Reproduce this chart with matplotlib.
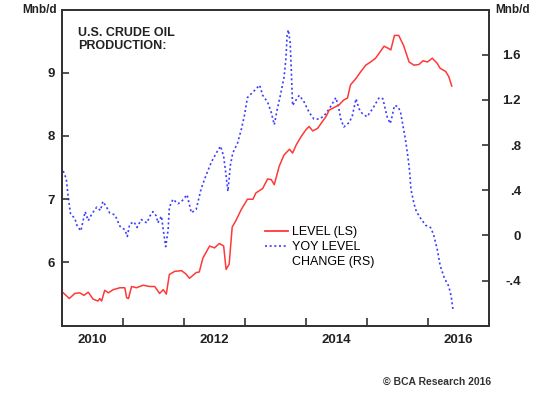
import numpy as np
import matplotlib
matplotlib.use("Agg")
import matplotlib.pyplot as plt
from matplotlib.lines import Line2D

plt.rcParams['font.family'] = ['Liberation Sans', 'DejaVu Sans']

## the data (decimal years)
level_t = [2010.02, 2010.12, 2010.21, 2010.29, 2010.36, 2010.43, 2010.51, 2010.59, 2010.62,
           2010.65, 2010.70, 2010.76, 2010.84, 2010.95, 2011.03, 2011.06, 2011.09, 2011.14,
           2011.22, 2011.33, 2011.44, 2011.52, 2011.60, 2011.66, 2011.71, 2011.76, 2011.85,
           2011.96, 2012.03, 2012.09, 2012.20, 2012.25, 2012.31, 2012.42, 2012.50, 2012.58,
           2012.65, 2012.69, 2012.74, 2012.79, 2012.85, 2012.94, 2013.04, 2013.13, 2013.18,
           2013.29, 2013.37, 2013.43, 2013.48, 2013.56, 2013.64, 2013.73, 2013.78, 2013.84,
           2013.92, 2014.00, 2014.05, 2014.11, 2014.19, 2014.27, 2014.33, 2014.38, 2014.46,
           2014.54, 2014.62, 2014.68, 2014.73, 2014.82, 2014.90, 2014.98, 2015.06, 2015.14,
           2015.20, 2015.28, 2015.36, 2015.39, 2015.45, 2015.52, 2015.60, 2015.69, 2015.77,
           2015.85, 2015.92, 2015.99, 2016.07, 2016.15, 2016.20, 2016.29, 2016.34, 2016.39]
level = [5.52, 5.43, 5.51, 5.52, 5.48, 5.53, 5.42, 5.39, 5.43,
         5.39, 5.56, 5.52, 5.57, 5.60, 5.60, 5.44, 5.43, 5.62,
         5.60, 5.64, 5.62, 5.62, 5.51, 5.57, 5.50, 5.81, 5.86,
         5.87, 5.82, 5.75, 5.84, 5.85, 6.07, 6.26, 6.23, 6.30,
         6.26, 5.89, 5.97, 6.56, 6.66, 6.84, 7.00, 7.00, 7.10,
         7.17, 7.32, 7.31, 7.23, 7.52, 7.70, 7.79, 7.73, 7.86,
         7.99, 8.10, 8.15, 8.08, 8.12, 8.23, 8.31, 8.41, 8.45,
         8.49, 8.57, 8.60, 8.81, 8.91, 9.02, 9.12, 9.17, 9.23,
         9.31, 9.42, 9.38, 9.36, 9.59, 9.59, 9.43, 9.17, 9.12,
         9.13, 9.19, 9.17, 9.23, 9.15, 9.07, 9.02, 8.94, 8.79]

yoy_t = [2010.02, 2010.07, 2010.10, 2010.14, 2010.21, 2010.25, 2010.31, 2010.35, 2010.38,
         2010.43, 2010.49, 2010.57, 2010.63, 2010.67, 2010.73, 2010.78, 2010.87, 2010.95,
         2011.03, 2011.07, 2011.11, 2011.18, 2011.23, 2011.30, 2011.39, 2011.44, 2011.49,
         2011.55, 2011.57, 2011.63, 2011.66, 2011.70, 2011.74, 2011.76, 2011.82, 2011.90,
         2011.96, 2012.05, 2012.12, 2012.20, 2012.28, 2012.36, 2012.45, 2012.53, 2012.60,
         2012.65, 2012.69, 2012.72, 2012.76, 2012.80, 2012.88, 2012.94, 2012.99, 2013.04,
         2013.15, 2013.24, 2013.29, 2013.37, 2013.43, 2013.48, 2013.53, 2013.58, 2013.64,
         2013.67, 2013.69, 2013.71, 2013.74, 2013.76, 2013.78, 2013.85, 2013.89, 2013.97,
         2014.05, 2014.13, 2014.22, 2014.30, 2014.38, 2014.49, 2014.54, 2014.57, 2014.62,
         2014.71, 2014.76, 2014.82, 2014.87, 2014.92, 2015.00, 2015.09, 2015.20, 2015.26,
         2015.29, 2015.33, 2015.38, 2015.41, 2015.45, 2015.51, 2015.55, 2015.59, 2015.63,
         2015.67, 2015.70, 2015.72, 2015.77, 2015.81, 2015.88, 2015.96, 2016.04, 2016.09,
         2016.15, 2016.20, 2016.27, 2016.34, 2016.38, 2016.41]
yoy = [0.57, 0.50, 0.35, 0.19, 0.15, 0.08, 0.04, 0.14, 0.21,
       0.13, 0.19, 0.25, 0.22, 0.30, 0.25, 0.20, 0.18, 0.08,
       0.05, -0.01, 0.10, 0.12, 0.07, 0.14, 0.11, 0.17, 0.21,
       0.17, 0.11, 0.17, 0.05, -0.10, 0.05, 0.25, 0.32, 0.28,
       0.30, 0.36, 0.20, 0.23, 0.41, 0.53, 0.65, 0.73, 0.79,
       0.70, 0.53, 0.39, 0.62, 0.73, 0.82, 0.94, 1.06, 1.22,
       1.28, 1.33, 1.24, 1.18, 1.09, 0.98, 1.12, 1.24, 1.40,
       1.56, 1.77, 1.82, 1.71, 1.45, 1.15, 1.21, 1.24, 1.18,
       1.09, 1.03, 1.03, 1.06, 1.12, 1.22, 1.12, 1.03, 0.96,
       1.00, 1.06, 1.21, 1.12, 1.08, 1.05, 1.12, 1.22, 1.21,
       1.14, 1.05, 0.99, 1.05, 1.15, 1.14, 1.09, 0.97, 0.85,
       0.70, 0.56, 0.41, 0.28, 0.21, 0.15, 0.09, 0.07, 0.01,
       -0.12, -0.27, -0.38, -0.45, -0.54, -0.66]

year_ticks = [2010, 2011, 2012, 2013, 2014, 2015, 2016, 2017]
year_labels = ['2010', '2012', '2014', '2016']
left_ticks = [6, 7, 8, 9]
right_ticks = [-0.4, 0, 0.4, 0.8, 1.2, 1.6]
right_labels = ['-.4', '0', '.4', '.8', '1.2', '1.6']

red = '#ff3838'
blue = '#3c3cff'
dark = '#333333'

fig = plt.figure(figsize=(5.5, 3.94), dpi=100)
ax = fig.add_axes([62/550, 1 - 325.7/394, (489 - 62)/550, (325.7 - 9.5)/394])
ax2 = ax.twinx()

## the lines
ax2.plot(yoy_t, yoy, color=blue, lw=1.2, linestyle=(0, (1.2, 1.6)))
ax.plot(level_t, level, color=red, lw=1.1)
ax.set_zorder(ax2.get_zorder() + 1)
ax.patch.set_visible(False)

# axes and ticks
ax.set_xlim(2010, 2017)
ax.set_ylim(5, 10)
ax2.set_ylim(-0.8, 2.0)
ax.set_xticks(year_ticks)
ax.set_xticklabels([])
ax.set_xticks([int(y) + 0.5 for y in year_labels], minor=True)
ax.set_xticklabels(year_labels, minor=True)
ax.tick_params(axis='x', which='major', direction='in', length=6, width=1.2, color=dark)
ax.tick_params(axis='x', which='minor', length=0, pad=6, labelsize=9.5)
ax.set_yticks(left_ticks)
ax.tick_params(axis='y', direction='in', length=5, width=1.2, color=dark, labelsize=9.5, pad=5)
ax2.set_yticks(right_ticks)
ax2.set_yticklabels(right_labels, ha='right')
ax2.tick_params(axis='y', direction='in', length=5, width=1.2, color=dark, labelsize=9.5, pad=23)
for lab in ax.get_xticklabels(minor=True) + ax.get_yticklabels() + ax2.get_yticklabels():
    lab.set_fontweight('bold')
    lab.set_color('#222222')
for a in (ax, ax2):
    for s in a.spines.values():
        s.set_color(dark)
        s.set_linewidth(1.3)

# texts
ax.text(0.037, 0.945, 'U.S. CRUDE OIL\nPRODUCTION:', transform=ax.transAxes, ha='left', va='top',
        fontsize=9, fontweight='bold', color='#222222', linespacing=1.15)
fig.text(22/550, 1 - 10/394, 'Mnb/d', ha='left', va='center', fontsize=8.5, fontweight='bold', color='#222222')
fig.text(495/550, 1 - 10/394, 'Mnb/d', ha='left', va='center', fontsize=8.5, fontweight='bold', color='#222222')
fig.text(491/550, 1 - 382/394, '\u00a9 BCA Research 2016', ha='right', va='center', fontsize=7.5,
         fontweight='bold', color='#333333')

## the legend
handles = [Line2D([], [], color=red, lw=1.3),
           Line2D([], [], color=blue, lw=1.2, linestyle=(0, (1.2, 1.6))),
           Line2D([], [], color='none')]
ax.legend(handles, ['LEVEL (LS)', 'YOY LEVEL', 'CHANGE (RS)'], loc='upper left',
          bbox_to_anchor=(265/550, 1 - 226/394), bbox_transform=fig.transFigure,
          frameon=False, fontsize=9, handlelength=1.8, handletextpad=0.4,
          labelspacing=0.25, borderpad=0, borderaxespad=0)

plt.savefig('out.png', dpi=100)
